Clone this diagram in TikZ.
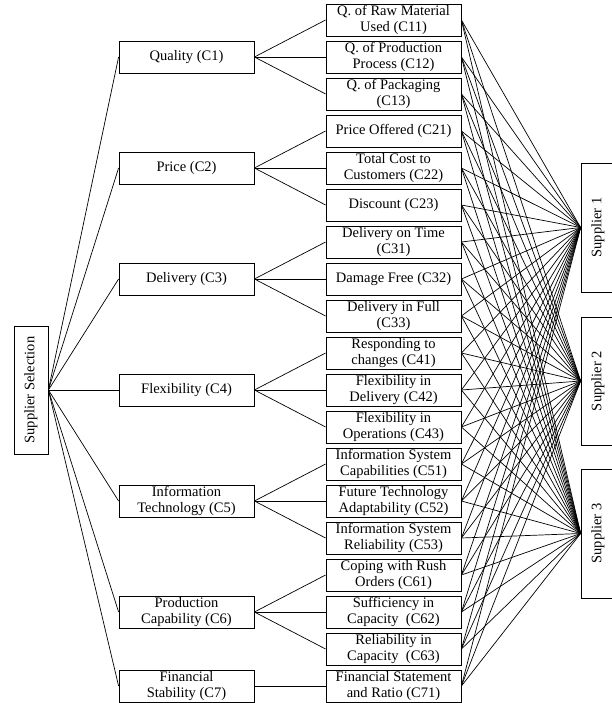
\documentclass[tikz,border=0pt]{standalone}
\usepackage{fontspec}
\setmainfont{Liberation Serif}
\begin{document}
\begin{tikzpicture}[x=1pt,y=-1pt,
  box/.style={draw,line width=0.8pt,rectangle,inner sep=0pt,align=center,
    font=\fontsize{14.5}{15.5}\selectfont},
  crit/.style={box,minimum width=135pt,minimum height=32pt},
  sub/.style={box,minimum width=135pt,minimum height=32pt},
  vbox/.style={box,rotate=90,minimum width=128pt,minimum height=34pt},
  link/.style={line width=0.7pt}]
\useasboundingbox (0,0) rectangle (612,703);
\begin{scope}
\clip (0,0) rectangle (612,703);
% root
\node[vbox] (ss) at (31,390) {Supplier Selection};
% criteria
\node[crit] (c1) at (186.5,57) {Quality (C1)};
\node[crit] (c2) at (186.5,168) {Price (C2)};
\node[crit] (c3) at (186.5,279) {Delivery (C3)};
\node[crit] (c4) at (186.5,390) {Flexibility (C4)};
\node[crit] (c5) at (186.5,501) {Information\\Technology (C5)};
\node[crit] (c6) at (186.5,612) {Production\\Capability (C6)};
\node[crit] (c7) at (186.5,686) {Financial\\Stability (C7)};
% sub-criteria
\node[sub] (s1) at (393.5,20) {Q. of Raw Material\\Used (C11)};
\node[sub] (s2) at (393.5,57) {Q. of Production\\Process (C12)};
\node[sub] (s3) at (393.5,94) {Q. of Packaging\\(C13)};
\node[sub] (s4) at (393.5,131) {Price Offered (C21)};
\node[sub] (s5) at (393.5,168) {Total Cost to\\Customers (C22)};
\node[sub] (s6) at (393.5,205) {Discount (C23)};
\node[sub] (s7) at (393.5,242) {Delivery on Time\\(C31)};
\node[sub] (s8) at (393.5,279) {Damage Free (C32)};
\node[sub] (s9) at (393.5,316) {Delivery in Full\\(C33)};
\node[sub] (s10) at (393.5,353) {Responding to\\changes (C41)};
\node[sub] (s11) at (393.5,390) {Flexibility in\\Delivery (C42)};
\node[sub] (s12) at (393.5,427) {Flexibility in\\Operations (C43)};
\node[sub] (s13) at (393.5,464) {Information System\\Capabilities (C51)};
\node[sub] (s14) at (393.5,501) {Future Technology\\Adaptability (C52)};
\node[sub] (s15) at (393.5,538) {Information System\\Reliability (C53)};
\node[sub] (s16) at (393.5,575) {Coping with Rush\\Orders (C61)};
\node[sub] (s17) at (393.5,612) {Sufficiency in\\Capacity~~(C62)};
\node[sub] (s18) at (393.5,649) {Reliability in\\Capacity~~(C63)};
\node[sub] (s19) at (393.5,686) {Financial Statement\\and Ratio (C71)};
% suppliers
\node[vbox,minimum width=129pt] (p1) at (598,227.5) {Supplier 1};
\node[vbox,minimum width=128pt] (p2) at (598,381) {Supplier 2};
\node[vbox,minimum width=129pt] (p3) at (598,533.5) {Supplier 3};
% root to criteria
\foreach \c in {1,...,7} \draw[link] (ss.south) -- (c\c.west);
% criteria to sub-criteria
\foreach \c/\s in {1/1,1/2,1/3,2/4,2/5,2/6,3/7,3/8,3/9,4/10,4/11,4/12,5/13,5/14,5/15,6/16,6/17,6/18,7/19}
  \draw[link] (c\c.east) -- (s\s.west);
% sub-criteria to suppliers
\foreach \s in {1,...,19}
  \foreach \p in {1,2,3}
    \draw[link] (s\s.east) -- (p\p.north);
\end{scope}
\end{tikzpicture}
\end{document}
